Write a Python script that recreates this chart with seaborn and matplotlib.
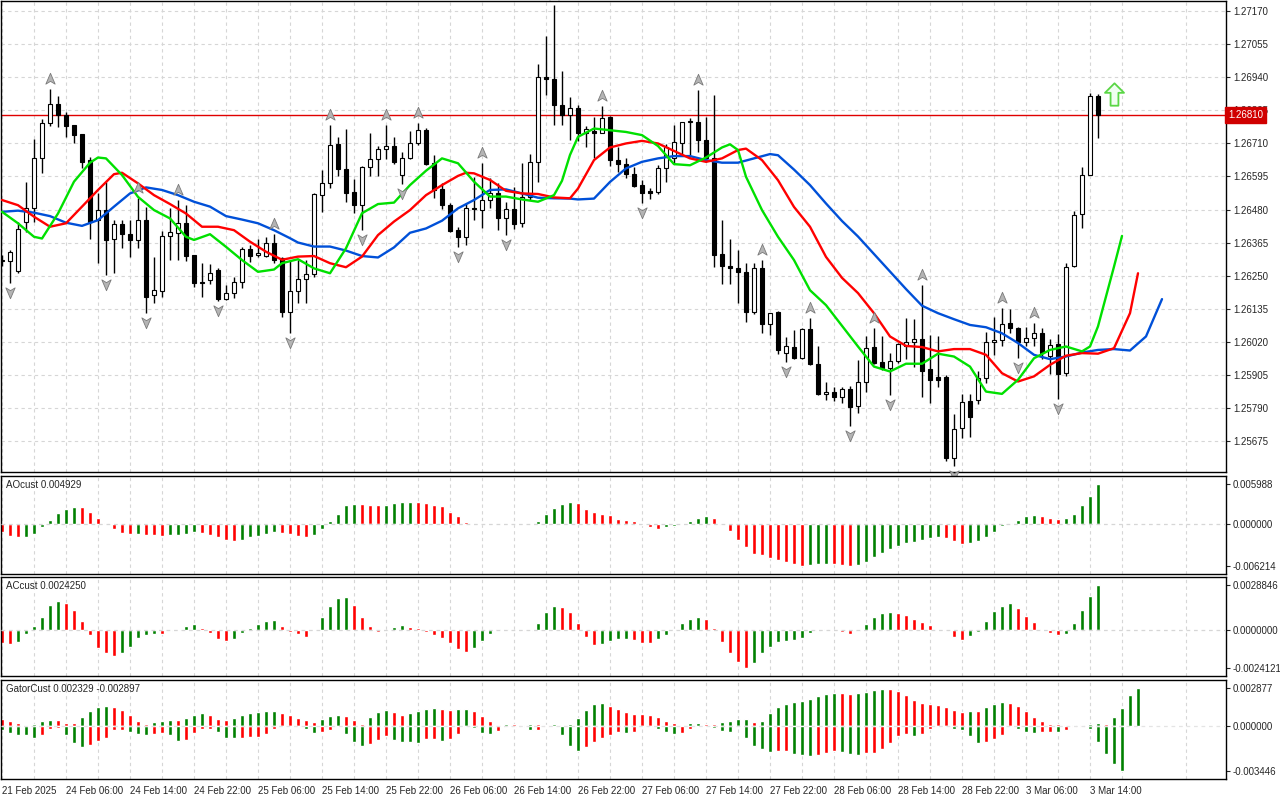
import numpy as np
import matplotlib
matplotlib.use("Agg")
import matplotlib.pyplot as plt
import seaborn as sns
from matplotlib.path import Path
from matplotlib.transforms import ScaledTranslation, blended_transform_factory

sns.set_style("white")
plt.rcParams["font.family"] = ["Liberation Sans", "DejaVu Sans"]

# H1 candles, first bar 21 Feb 2025 22:00
opens = [1.26300, 1.26302, 1.26267, 1.26437, 1.26484, 1.26661, 1.26780, 1.26846, 1.26809, 1.26773,
         1.26742, 1.26652, 1.26445, 1.26478, 1.26376, 1.26429, 1.26394, 1.26374, 1.26445, 1.26181,
         1.26197, 1.26388, 1.26399, 1.26432, 1.26321, 1.26229, 1.26234, 1.26271, 1.26167, 1.26188,
         1.26226, 1.26341, 1.26321, 1.26318, 1.26365, 1.26310, 1.26124, 1.26196, 1.26237, 1.26255,
         1.26530, 1.26571, 1.26708, 1.26620, 1.26541, 1.26497, 1.26629, 1.26655, 1.26689, 1.26701,
         1.26600, 1.26661, 1.26713, 1.26757, 1.26641, 1.26550, 1.26496, 1.26409, 1.26383, 1.26484,
         1.26478, 1.26513, 1.26536, 1.26449, 1.26481, 1.26432, 1.26525, 1.26646, 1.26942, 1.26933,
         1.26844, 1.26808, 1.26835, 1.26745, 1.26753, 1.26748, 1.26803, 1.26654, 1.26640, 1.26605,
         1.26564, 1.26544, 1.26541, 1.26623, 1.26661, 1.26713, 1.26784, 1.26785, 1.26721, 1.26661,
         1.26324, 1.26283, 1.26275, 1.26263, 1.26122, 1.26278, 1.26080, 1.26122, 1.25979, 1.26000,
         1.25962, 1.26063, 1.25942, 1.25837, 1.25843, 1.25826, 1.25855, 1.25796, 1.25881, 1.26001,
         1.25949, 1.25928, 1.25951, 1.26003, 1.26020, 1.26029, 1.25924, 1.25896, 1.25896, 1.25614,
         1.25719, 1.25812, 1.25815, 1.25895, 1.26020, 1.26026, 1.26084, 1.26067, 1.26020, 1.26031,
         1.26049, 1.25971, 1.26011, 1.25910, 1.26284, 1.26465, 1.26600, 1.26875]
highs = [1.26320, 1.26339, 1.26437, 1.26577, 1.26725, 1.26794, 1.26901, 1.26875, 1.26820, 1.26773,
         1.26742, 1.26664, 1.26536, 1.26577, 1.26445, 1.26445, 1.26445, 1.26519, 1.26490, 1.26316,
         1.26406, 1.26484, 1.26513, 1.26495, 1.26321, 1.26292, 1.26290, 1.26275, 1.26217, 1.26246,
         1.26350, 1.26356, 1.26376, 1.26385, 1.26394, 1.26316, 1.26304, 1.26304, 1.26304, 1.26537,
         1.26617, 1.26774, 1.26733, 1.26760, 1.26585, 1.26631, 1.26745, 1.26701, 1.26774, 1.26731,
         1.26681, 1.26754, 1.26780, 1.26765, 1.26670, 1.26573, 1.26501, 1.26420, 1.26501, 1.26594,
         1.26643, 1.26588, 1.26573, 1.26507, 1.26559, 1.26643, 1.26673, 1.26986, 1.27084, 1.27192,
         1.26963, 1.26872, 1.26843, 1.26770, 1.26803, 1.26840, 1.26805, 1.26696, 1.26661, 1.26629,
         1.26582, 1.26555, 1.26634, 1.26707, 1.26774, 1.26785, 1.26797, 1.26895, 1.26803, 1.26878,
         1.26445, 1.26379, 1.26339, 1.26292, 1.26292, 1.26305, 1.26118, 1.26127, 1.26035, 1.26060,
         1.26066, 1.26101, 1.26005, 1.25880, 1.25863, 1.25863, 1.25864, 1.25957, 1.26038, 1.26067,
         1.26040, 1.25980, 1.26015, 1.26102, 1.26098, 1.26218, 1.26044, 1.26040, 1.25904, 1.25769,
         1.25838, 1.25838, 1.25916, 1.26055, 1.26105, 1.26136, 1.26133, 1.26070, 1.26070, 1.26085,
         1.26067, 1.26029, 1.26047, 1.26295, 1.26476, 1.26627, 1.26885, 1.26882]
lows = [1.26285, 1.26223, 1.26258, 1.26403, 1.26437, 1.26608, 1.26771, 1.26768, 1.26733, 1.26710,
        1.26623, 1.26379, 1.26292, 1.26252, 1.26260, 1.26345, 1.26316, 1.26345, 1.26118, 1.26153,
        1.26174, 1.26304, 1.26304, 1.26301, 1.26211, 1.26176, 1.26220, 1.26160, 1.26166, 1.26172,
        1.26208, 1.26298, 1.26316, 1.26316, 1.26292, 1.26107, 1.26049, 1.26153, 1.26153, 1.26246,
        1.26472, 1.26554, 1.26597, 1.26507, 1.26467, 1.26409, 1.26597, 1.26597, 1.26655, 1.26640,
        1.26570, 1.26655, 1.26704, 1.26635, 1.26519, 1.26481, 1.26403, 1.26351, 1.26356, 1.26443,
        1.26414, 1.26484, 1.26410, 1.26390, 1.26411, 1.26420, 1.26513, 1.26577, 1.26878, 1.26774,
        1.26774, 1.26721, 1.26719, 1.26696, 1.26661, 1.26745, 1.26631, 1.26611, 1.26591, 1.26557,
        1.26501, 1.26518, 1.26533, 1.26576, 1.26640, 1.26675, 1.26663, 1.26681, 1.26646, 1.26281,
        1.26220, 1.26220, 1.26153, 1.26089, 1.26116, 1.26049, 1.26043, 1.25977, 1.25950, 1.25958,
        1.25960, 1.25938, 1.25834, 1.25817, 1.25814, 1.25805, 1.25725, 1.25773, 1.25846, 1.25943,
        1.25922, 1.25835, 1.25945, 1.25959, 1.25931, 1.25827, 1.25806, 1.25861, 1.25603, 1.25588,
        1.25684, 1.25687, 1.25803, 1.25875, 1.25974, 1.26003, 1.26049, 1.25962, 1.26005, 1.26003,
        1.25959, 1.25908, 1.25820, 1.25899, 1.26280, 1.26415, 1.26600, 1.26728]
closes = [1.26305, 1.26332, 1.26411, 1.26484, 1.26661, 1.26780, 1.26846, 1.26809, 1.26771, 1.26739,
          1.26646, 1.26437, 1.26480, 1.26374, 1.26429, 1.26393, 1.26374, 1.26445, 1.26176, 1.26200,
          1.26388, 1.26400, 1.26432, 1.26318, 1.26223, 1.26225, 1.26258, 1.26167, 1.26188, 1.26226,
          1.26341, 1.26319, 1.26330, 1.26365, 1.26304, 1.26124, 1.26196, 1.26237, 1.26255, 1.26533,
          1.26571, 1.26704, 1.26620, 1.26538, 1.26497, 1.26629, 1.26655, 1.26689, 1.26702, 1.26646,
          1.26658, 1.26713, 1.26757, 1.26638, 1.26548, 1.26496, 1.26406, 1.26383, 1.26484, 1.26481,
          1.26513, 1.26536, 1.26449, 1.26481, 1.26429, 1.26525, 1.26646, 1.26942, 1.26933, 1.26844,
          1.26809, 1.26835, 1.26745, 1.26759, 1.26748, 1.26800, 1.26654, 1.26640, 1.26605, 1.26562,
          1.26538, 1.26539, 1.26623, 1.26696, 1.26716, 1.26783, 1.26789, 1.26721, 1.26661, 1.26321,
          1.26283, 1.26275, 1.26263, 1.26122, 1.26278, 1.26080, 1.26118, 1.25991, 1.26005, 1.25962,
          1.26063, 1.25942, 1.25837, 1.25843, 1.25826, 1.25854, 1.25794, 1.25881, 1.25997, 1.25947,
          1.25928, 1.25951, 1.26012, 1.26020, 1.26029, 1.25919, 1.25885, 1.25885, 1.25614, 1.25715,
          1.25808, 1.25759, 1.25895, 1.26020, 1.26026, 1.26082, 1.26069, 1.26020, 1.26031, 1.26049,
          1.25980, 1.26009, 1.25908, 1.26281, 1.26461, 1.26600, 1.26875, 1.26810]

# alligator lines (bar index, price)
jaw_x = [0, 2, 4, 6, 8, 10, 12, 14, 16, 18, 20, 22, 24, 26, 28, 30, 32, 34, 36, 37,
         39, 41, 43, 45, 47, 49, 51, 53, 55, 57, 59, 61, 63, 65, 67, 69, 71, 72, 74, 76,
         78, 80, 82, 84, 86, 88, 90, 92, 94, 96, 97, 99, 101, 103, 105, 107, 109, 111, 113, 115,
         117, 119, 121, 123, 125, 127, 129, 131, 133, 135, 137, 139, 141, 143, 145]
jaw_y = [1.26472, 1.26476, 1.26469, 1.26457, 1.26434, 1.26423, 1.26443, 1.26490, 1.26536, 1.26557,
         1.26548, 1.26530, 1.26507, 1.26490, 1.26457, 1.26445, 1.26432, 1.26408, 1.26380, 1.26365,
         1.26351, 1.26351, 1.26337, 1.26318, 1.26313, 1.26348, 1.26399, 1.26414, 1.26441, 1.26484,
         1.26513, 1.26548, 1.26550, 1.26536, 1.26521, 1.26519, 1.26518, 1.26515, 1.26518, 1.26576,
         1.26623, 1.26646, 1.26658, 1.26666, 1.26666, 1.26652, 1.26643, 1.26643, 1.26658, 1.26673,
         1.26669, 1.26619, 1.26565, 1.26501, 1.26440, 1.26386, 1.26325, 1.26264, 1.26203, 1.26145,
         1.26119, 1.26098, 1.26078, 1.26070, 1.26049, 1.26015, 1.25974, 1.25959, 1.25968, 1.25982,
         1.25991, 1.25994, 1.25989, 1.26038, 1.26168]
teeth_x = [0, 2, 4, 6, 8, 10, 12, 14, 15, 17, 19, 21, 23, 25, 27, 29, 31, 33, 35, 37,
           39, 41, 43, 45, 47, 49, 51, 53, 55, 57, 58, 59, 61, 63, 65, 67, 69, 71, 72, 74,
           76, 78, 80, 82, 84, 86, 88, 90, 92, 93, 95, 97, 99, 101, 103, 105, 107, 109, 111, 113,
           115, 117, 119, 121, 123, 125, 127, 129, 131, 133, 135, 137, 139, 141, 142]
teeth_y = [1.26513, 1.26495, 1.26455, 1.26420, 1.26432, 1.26490, 1.26548, 1.26603, 1.26608, 1.26571,
           1.26530, 1.26499, 1.26466, 1.26420, 1.26420, 1.26408, 1.26368, 1.26333, 1.26305, 1.26316,
           1.26318, 1.26293, 1.26279, 1.26316, 1.26391, 1.26438, 1.26478, 1.26530, 1.26565, 1.26597,
           1.26608, 1.26606, 1.26583, 1.26545, 1.26536, 1.26534, 1.26522, 1.26519, 1.26553, 1.26652,
           1.26696, 1.26710, 1.26719, 1.26710, 1.26684, 1.26658, 1.26646, 1.26658, 1.26687, 1.26692,
           1.26652, 1.26582, 1.26489, 1.26420, 1.26315, 1.26242, 1.26189, 1.26119, 1.26038, 1.26005,
           1.26001, 1.25986, 1.25994, 1.25994, 1.25974, 1.25910, 1.25881, 1.25899, 1.25939, 1.25971,
           1.25980, 1.25978, 1.25997, 1.26119, 1.26258]
lips_x = [0, 2, 4, 5, 7, 9, 11, 12, 13, 15, 17, 19, 21, 23, 24, 26, 28, 30, 32, 34,
          35, 37, 39, 41, 43, 45, 47, 49, 51, 53, 55, 57, 59, 61, 63, 65, 67, 69, 70, 71,
          72, 74, 76, 78, 80, 82, 84, 86, 88, 90, 91, 92, 93, 95, 97, 99, 101, 103, 105, 107,
          109, 111, 113, 115, 117, 119, 121, 123, 125, 127, 129, 131, 133, 135, 136, 137, 139, 140]
lips_y = [1.26472, 1.26432, 1.26385, 1.26379, 1.26466, 1.26577, 1.26643, 1.26661, 1.26658, 1.26600,
          1.26524, 1.26478, 1.26449, 1.26385, 1.26374, 1.26394, 1.26350, 1.26304, 1.26263, 1.26271,
          1.26293, 1.26307, 1.26275, 1.26258, 1.26345, 1.26467, 1.26499, 1.26504, 1.26565, 1.26615,
          1.26658, 1.26641, 1.26577, 1.26525, 1.26525, 1.26515, 1.26507, 1.26530, 1.26580, 1.26670,
          1.26733, 1.26762, 1.26756, 1.26750, 1.26739, 1.26701, 1.26638, 1.26634, 1.26661, 1.26696,
          1.26707, 1.26687, 1.26594, 1.26478, 1.26385, 1.26304, 1.26199, 1.26147, 1.26075, 1.26003,
          1.25933, 1.25916, 1.25943, 1.25943, 1.25978, 1.25968, 1.25933, 1.25846, 1.25838, 1.25887,
          1.25962, 1.25991, 1.26003, 1.25986, 1.26003, 1.26073, 1.26281, 1.26388]

frac_up = [6, 17, 22, 34, 41, 48, 52, 60, 69, 75, 87, 95, 101, 109, 115, 125, 129]
frac_dn = [1, 13, 18, 27, 36, 45, 50, 57, 63, 80, 98, 106, 111, 119, 127, 132]

ao = [-0.00114, -0.00179, -0.00198, -0.00188, -0.00139, -0.00045, 0.00069, 0.00169, 0.00233, 0.00263,
      0.00258, 0.00184, 0.00094, 0.00020, -0.00064, -0.00129, -0.00149, -0.00144, -0.00154, -0.00164,
      -0.00179, -0.00164, -0.00154, -0.00139, -0.00114, -0.00129, -0.00154, -0.00198, -0.00228, -0.00248,
      -0.00228, -0.00198, -0.00174, -0.00144, -0.00114, -0.00124, -0.00149, -0.00174, -0.00188, -0.00154,
      -0.00064, 0.00045, 0.00149, 0.00283, 0.00303, 0.00298, 0.00293, 0.00283, 0.00288, 0.00317,
      0.00327, 0.00332, 0.00327, 0.00317, 0.00288, 0.00268, 0.00184, 0.00119, 0.00035, 0.00010,
      -0.00003, -0.00002, 0.00005, 0.00008, 0.00006, 0.00002, -0.00001, 0.00050, 0.00159, 0.00243,
      0.00303, 0.00332, 0.00317, 0.00233, 0.00184, 0.00149, 0.00134, 0.00084, 0.00060, 0.00050,
      -0.00005, -0.00045, -0.00064, -0.00045, -0.00030, 0.00002, 0.00050, 0.00094, 0.00124, 0.00094,
      -0.00010, -0.00099, -0.00233, -0.00347, -0.00441, -0.00461, -0.00501, -0.00531, -0.00560, -0.00590,
      -0.006214, -0.00610, -0.00595, -0.00590, -0.00595, -0.00610, -0.00619, -0.00610, -0.00560, -0.00486,
      -0.00427, -0.00367, -0.00322, -0.00278, -0.00263, -0.00233, -0.00208, -0.00198, -0.00213, -0.00253,
      -0.00288, -0.00283, -0.00248, -0.00198, -0.00114, -0.00030, 0.00020, 0.00069, 0.00124, 0.00134,
      0.00119, 0.00099, 0.00084, 0.00099, 0.00159, 0.00283, 0.00422, 0.005988]
ac = [-0.00080, -0.00086, -0.00073, -0.00026, 0.00028, 0.00086, 0.00164, 0.00189, 0.00177, 0.00131,
      0.00060, -0.00034, -0.00112, -0.00146, -0.00164, -0.00146, -0.00105, -0.00047, -0.00030, -0.00022,
      -0.00024, -0.00004, 0.00004, 0.00028, 0.00039, 0.00013, -0.00015, -0.00054, -0.00069, -0.00054,
      -0.00015, 0.00013, 0.00039, 0.00060, 0.00067, 0.00028, -0.00009, -0.00026, -0.00041, 0.00001,
      0.00082, 0.00157, 0.00205, 0.00215, 0.00164, 0.00082, 0.00028, -0.00009, -0.00004, 0.00022,
      0.00034, 0.00022, 0.00015, -0.00009, -0.00032, -0.00047, -0.00084, -0.00123, -0.00138, -0.00112,
      -0.00069, -0.00022, 0.00006, 0.00009, 0.00004, -0.00005, -0.00003, 0.00043, 0.00118, 0.00157,
      0.00151, 0.00114, 0.00043, -0.00043, -0.00097, -0.00090, -0.00069, -0.00058, -0.00055, -0.00060,
      -0.00080, -0.00082, -0.00058, -0.00030, 0.00006, 0.00045, 0.00071, 0.00086, 0.00071, 0.00013,
      -0.00075, -0.00146, -0.00205, -0.0024121, -0.00211, -0.00146, -0.00108, -0.00075, -0.00067, -0.00062,
      -0.00050, -0.00015, -0.00004, 0.00006, -0.00004, -0.00011, -0.00024, -0.00004, 0.00039, 0.00084,
      0.00112, 0.00116, 0.00112, 0.00097, 0.00071, 0.00050, 0.00035, 0.00004, -0.00005, -0.00041,
      -0.00062, -0.00037, -0.00009, 0.00060, 0.00125, 0.00157, 0.00172, 0.00140, 0.00093, 0.00050,
      0.00006, -0.00019, -0.00032, -0.00022, 0.00047, 0.00131, 0.00221, 0.0028846]
gator_up = [0.00051, 0.00039, 0.00021, 0.00008, 0.00015, 0.00039, 0.00046, 0.00045, 0.00023, 0.00022,
            0.00069, 0.00116, 0.00146, 0.00154, 0.00146, 0.00123, 0.00085, 0.00039, 0.00013, 0.00028,
            0.00039, 0.00046, 0.00044, 0.00062, 0.00085, 0.00100, 0.00085, 0.00054, 0.00046, 0.00062,
            0.00085, 0.00098, 0.00108, 0.00110, 0.00116, 0.00100, 0.00085, 0.00062, 0.00046, 0.00026,
            0.00054, 0.00077, 0.00085, 0.00077, 0.00046, 0.00013, 0.00069, 0.00108, 0.00123, 0.00108,
            0.00085, 0.00100, 0.00116, 0.00131, 0.00139, 0.00131, 0.00123, 0.00131, 0.00132, 0.00116,
            0.00077, 0.00039, 0.00008, 0.00015, 0.00013, 0.00008, 0.00015, 0.00013, 0.00008, 0.00015,
            0.00008, 0.00015, 0.00062, 0.00123, 0.00170, 0.00177, 0.00154, 0.00131, 0.00108, 0.00093,
            0.00090, 0.00085, 0.00069, 0.00039, 0.00023, 0.00008, 0.00018, 0.00020, 0.00015, 0.00013,
            0.00031, 0.00039, 0.00054, 0.00055, 0.00031, 0.00039, 0.00100, 0.00146, 0.00170, 0.00185,
            0.00193, 0.00208, 0.00231, 0.00247, 0.00254, 0.00252, 0.00247, 0.00250, 0.00262, 0.00278,
            0.00285, 0.00284, 0.00270, 0.00239, 0.00200, 0.00177, 0.00170, 0.00162, 0.00146, 0.00123,
            0.00108, 0.00116, 0.00113, 0.00146, 0.00170, 0.00185, 0.00177, 0.00154, 0.00116, 0.00069,
            0.00039, 0.00015, 0.00010, 0.00008, 0.00009, 0.00007, 0.00012, 0.00018, 0.00010, 0.00064,
            0.00139, 0.002329, 0.002877]
gator_dn = [-0.00033, -0.00059, -0.00072, -0.00073, -0.00090, -0.00072, -0.00021, -0.00018, -0.00072, -0.00134,
            -0.00159, -0.00144, -0.00118, -0.00090, -0.00036, -0.00030, -0.00051, -0.00064, -0.00072, -0.00064,
            -0.00059, -0.00072, -0.00113, -0.00112, -0.00054, -0.00028, -0.00027, -0.00051, -0.00090, -0.00092,
            -0.00090, -0.00088, -0.00085, -0.00064, -0.00028, -0.00013, -0.00005, -0.00008, -0.00028, -0.00059,
            -0.00044, -0.00036, -0.00005, -0.00064, -0.00128, -0.00152, -0.00141, -0.00108, -0.00077, -0.00108,
            -0.00123, -0.00128, -0.00131, -0.00100, -0.00099, -0.00116, -0.00100, -0.00062, -0.00013, -0.00014,
            -0.00057, -0.00062, -0.00039, -0.00013, -0.00012, -0.00013, -0.00031, -0.00030, -0.00008, -0.00005,
            -0.00069, -0.00154, -0.00193, -0.00162, -0.00121, -0.00093, -0.00069, -0.00046, -0.00054, -0.00046,
            -0.00008, -0.00009, -0.00023, -0.00046, -0.00062, -0.00054, -0.00023, -0.00005, -0.00004, -0.00015,
            -0.00039, -0.00046, -0.00003, -0.00090, -0.00152, -0.00175, -0.00198, -0.00197, -0.00190, -0.00213,
            -0.00221, -0.00228, -0.00227, -0.00206, -0.00190, -0.00198, -0.00213, -0.00221, -0.00206, -0.00205,
            -0.00175, -0.00129, -0.00082, -0.00062, -0.00075, -0.00062, -0.00023, -0.00013, -0.00005, -0.00028,
            -0.00036, -0.00075, -0.00129, -0.00121, -0.00098, -0.00067, -0.00013, -0.00021, -0.00044, -0.00059,
            -0.00051, -0.00044, -0.00045, -0.00036, -0.00013, -0.00008, -0.00028, -0.00121, -0.00213, -0.002897,
            -0.003446]

time_labels = ["21 Feb 2025", "24 Feb 06:00", "24 Feb 14:00", "24 Feb 22:00", "25 Feb 06:00",
               "25 Feb 14:00", "25 Feb 22:00", "26 Feb 06:00", "26 Feb 14:00", "26 Feb 22:00",
               "27 Feb 06:00", "27 Feb 14:00", "27 Feb 22:00", "28 Feb 06:00", "28 Feb 14:00",
               "28 Feb 22:00", "3 Mar 06:00", "3 Mar 14:00"]
price_ticks = [1.25675, 1.25790, 1.25905, 1.26020, 1.26135, 1.26250, 1.26365,
               1.26480, 1.26595, 1.26710, 1.26825, 1.26940, 1.27055, 1.27170]

GREEN = "#008000"
RED = "#ff0000"
GRID = "#d6d6d6"


def trend_colors(vals, first, use_abs=False):
    # green when the bar grows against the previous one, red otherwise
    v = np.abs(vals) if use_abs else np.asarray(vals)
    cols = [first]
    for a, b in zip(v[:-1], v[1:]):
        cols.append(GREEN if b > a else RED)
    return cols


o = np.array(opens); h = np.array(highs); l = np.array(lows); c = np.array(closes)
n = len(c)
idx = np.arange(n)

fig = plt.figure(figsize=(12.8, 8), dpi=100)
fig.patch.set_facecolor("white")
left, width = 1 / 1280, 1225 / 1280
ax_main = fig.add_axes([left, 328 / 800, width, 471 / 800])
ax_ao = fig.add_axes([left, 226 / 800, width, 98 / 800])
ax_ac = fig.add_axes([left, 124 / 800, width, 99 / 800])
ax_gt = fig.add_axes([left, 21 / 800, width, 99 / 800])
axes = [ax_main, ax_ao, ax_ac, ax_gt]

for ax in axes:
    ax.set_xlim(-0.125, 153)
    ax.set_xticks(np.arange(0, 137, 8))
    ax.set_xticks(np.arange(4, 153, 8), minor=True)
    ax.grid(True, which="both", axis="x", color=GRID, ls=(0, (3, 3)), lw=0.8)
    ax.set_axisbelow(True)
    for s in ax.spines.values():
        s.set_color("black")
        s.set_linewidth(1.0)
    ax.yaxis.tick_right()
    ax.tick_params(axis="y", which="both", length=3, width=0.8, labelsize=7, pad=2, direction="out")
    ax.tick_params(axis="x", which="both", length=0, labelbottom=False)

# main price panel
ax_main.set_ylim(1.25566, 1.27206)
ax_main.set_yticks(price_ticks)
ax_main.set_yticklabels([f"{p:.5f}" for p in price_ticks])
ax_main.grid(True, axis="y", color=GRID, ls=(0, (3, 3)), lw=0.8)

ax_main.vlines(idx, l, h, color="black", lw=1.0, zorder=2)
bull = c >= o
ax_main.bar(idx, np.maximum(np.abs(c - o), 0.000008), bottom=np.minimum(o, c), width=0.6,
            color=np.where(bull, "white", "black"), edgecolor="black", linewidth=0.8, zorder=3)

sns.lineplot(x=jaw_x, y=jaw_y, ax=ax_main, color="#0050d8", lw=1.7, sort=False, zorder=4)
sns.lineplot(x=teeth_x, y=teeth_y, ax=ax_main, color="#ff0000", lw=1.7, sort=False, zorder=4)
sns.lineplot(x=lips_x, y=lips_y, ax=ax_main, color="#00e000", lw=1.7, sort=False, zorder=4)
ax_main.set_xlabel("")
ax_main.set_ylabel("")

# fractal arrows
up_mark = Path([(0, 1), (0.75, -0.75), (0, -0.3), (-0.75, -0.75), (0, 1)],
               [Path.MOVETO, Path.LINETO, Path.LINETO, Path.LINETO, Path.CLOSEPOLY])
dn_mark = Path([(0, -1), (0.75, 0.75), (0, 0.3), (-0.75, 0.75), (0, -1)],
               [Path.MOVETO, Path.LINETO, Path.LINETO, Path.LINETO, Path.CLOSEPOLY])
tr_up = ax_main.transData + ScaledTranslation(0, 0.10, fig.dpi_scale_trans)
tr_dn = ax_main.transData + ScaledTranslation(0, -0.09, fig.dpi_scale_trans)
ax_main.scatter(frac_up, h[frac_up], marker=up_mark, s=80, facecolor="#b4b4b4",
                edgecolor="#7a7a7a", linewidth=0.6, transform=tr_up, zorder=5, clip_on=False)
ax_main.scatter(frac_dn, l[frac_dn], marker=dn_mark, s=80, facecolor="#b4b4b4",
                edgecolor="#7a7a7a", linewidth=0.6, transform=tr_dn, zorder=5, clip_on=False)

# buy signal arrow two bars after the last candle
sig_mark = Path([(0, 1), (0.85, 0.15), (0.35, 0.15), (0.35, -1), (-0.35, -1), (-0.35, 0.15),
                 (-0.85, 0.15), (0, 1)],
                [Path.MOVETO] + [Path.LINETO] * 6 + [Path.CLOSEPOLY])
ax_main.scatter([n + 1], [h[-1]], marker=sig_mark, s=260, facecolor="#effff0",
                edgecolor="#5ad645", linewidth=1.3, zorder=6)

# last price line and label
ax_main.axhline(c[-1], color="#e00000", lw=1.0, zorder=1.5)
bt = blended_transform_factory(ax_main.transAxes, ax_main.transData)
ax_main.text(1.0016, c[-1], f"{c[-1]:.5f}", transform=bt, color="white", fontsize=7,
             va="center", ha="left", clip_on=False, zorder=10,
             bbox=dict(boxstyle="square,pad=0.3", fc="#d00000", ec="#d00000"))


def histo_panel(ax, vals, first, fmt, title):
    x = np.arange(len(vals))
    ax.bar(x, vals, width=0.5, color=trend_colors(vals, first), zorder=2)
    vmin, vmax = min(vals), max(vals)
    pad = 0.1 * (vmax - vmin)
    ax.set_ylim(vmin - pad, vmax + pad)
    ax.set_yticks([vmin, 0, vmax])
    ax.set_yticklabels([fmt % vmin, fmt % 0, fmt % vmax])
    ax.axhline(0, color=GRID, ls=(0, (3, 3)), lw=0.9, zorder=3)
    ax.text(0.004, 1 - 9 / 98, title, transform=ax.transAxes, fontsize=7, va="center", ha="left")


histo_panel(ax_ao, ao, RED, "%.6f", "AOcust 0.004929")
histo_panel(ax_ac, ac, RED, "%.7f", "ACcust 0.0024250")

# gator: upper and lower bars
ax_gt.bar(np.arange(len(gator_up)), gator_up, width=0.5,
          color=trend_colors(gator_up, RED, use_abs=True), zorder=2)
ax_gt.bar(np.arange(len(gator_dn)), gator_dn, width=0.5,
          color=trend_colors(gator_dn, GREEN, use_abs=True), zorder=2)
g_min, g_max = min(gator_dn), max(gator_up)
g_pad = 0.1 * (g_max - g_min)
ax_gt.set_ylim(g_min - g_pad, g_max + g_pad)
ax_gt.set_yticks([g_min, 0, g_max])
ax_gt.set_yticklabels(["%.6f" % g_min, "0.000000", "%.6f" % g_max])
ax_gt.axhline(0, color="#e4e4e4", ls=(0, (3, 3)), lw=0.9, zorder=3)
ax_gt.text(0.004, 1 - 9 / 99, "GatorCust 0.002329 -0.002897", transform=ax_gt.transAxes,
           fontsize=7, va="center", ha="left")

ax_gt.set_xticks(np.arange(0, 137, 8))
ax_gt.set_xticklabels(time_labels, ha="left")
ax_gt.tick_params(axis="x", which="major", length=3, width=0.8, labelbottom=True,
                  labelsize=7, pad=2, direction="out")

fig.savefig("out.png", dpi=100)
